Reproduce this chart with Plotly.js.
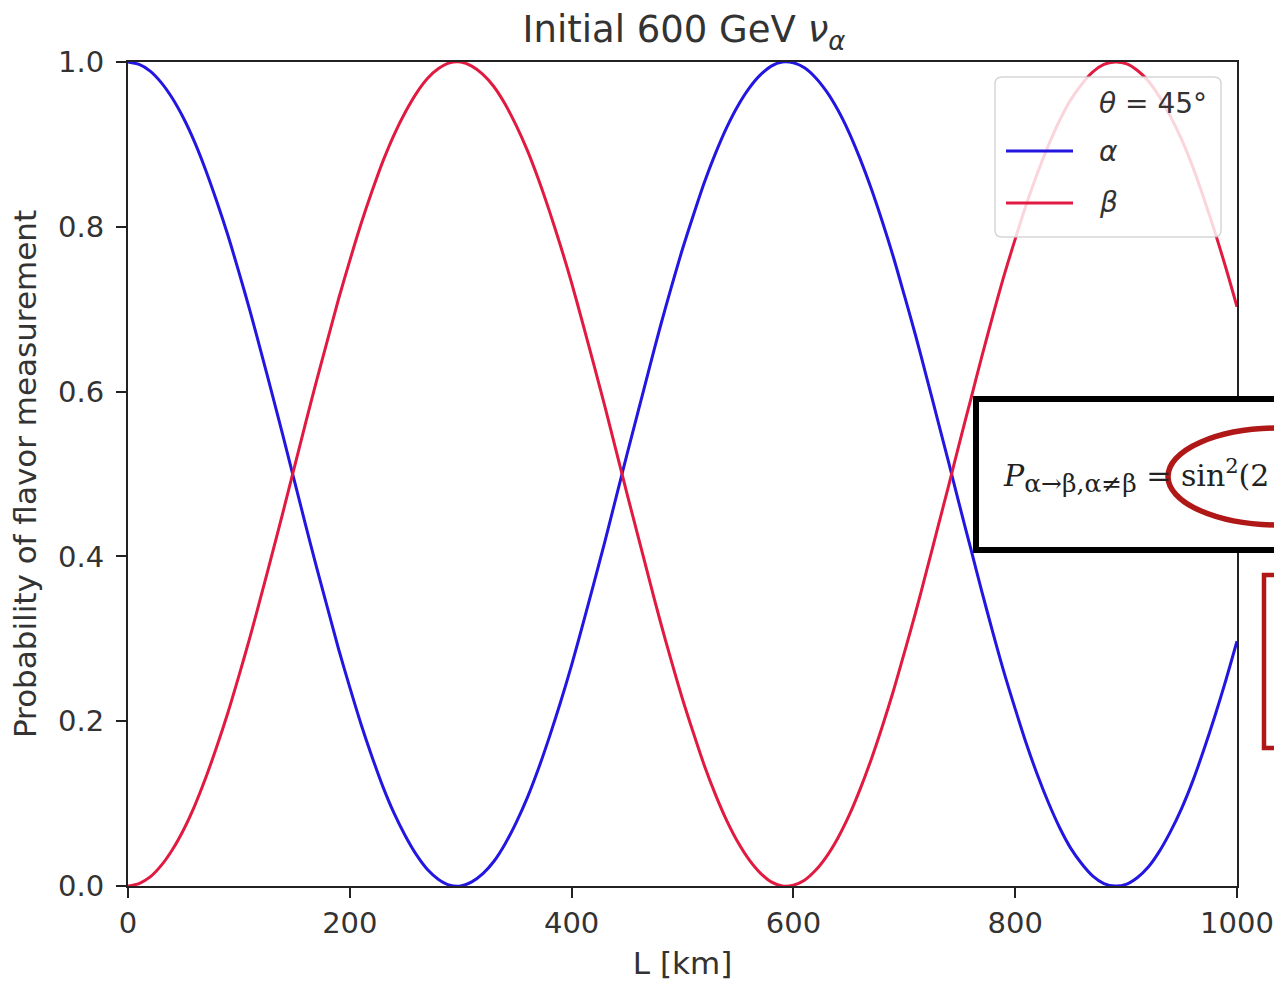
<!DOCTYPE html>
<html>
<head>
<meta charset="utf-8">
<script src="https://cdn.plot.ly/plotly-3.0.1.min.js"></script>
<style>html,body{margin:0;padding:0;background:#fff;}#chart{width:1274px;height:982px;}</style>
</head>
<body>
<div id="chart"></div>
<script>
// Distance L [km]
var distanceKm = [0,10,20,30,40,50,60,70,80,90,100,110,120,130,140,150,160,170,180,190,200,210,220,230,240,250,260,270,280,290,300,310,320,330,340,350,360,370,380,390,400,410,420,430,440,450,460,470,480,490,500,510,520,530,540,550,560,570,580,590,600,610,620,630,640,650,660,670,680,690,700,710,720,730,740,750,760,770,780,790,800,810,820,830,840,850,860,870,880,890,900,910,920,930,940,950,960,970,980,990,1000];
var probAlpha = [1.000,0.997,0.989,0.975,0.956,0.932,0.903,0.869,0.831,0.790,0.745,0.698,0.648,0.597,0.545,0.492,0.439,0.387,0.337,0.287,0.241,0.197,0.157,0.120,0.088,0.061,0.038,0.020,0.008,0.001,0.000,0.005,0.015,0.030,0.051,0.077,0.107,0.142,0.181,0.223,0.268,0.317,0.367,0.418,0.471,0.524,0.576,0.628,0.679,0.727,0.773,0.815,0.855,0.890,0.921,0.947,0.968,0.984,0.995,1.000,0.999,0.993,0.981,0.964,0.942,0.915,0.883,0.847,0.807,0.764,0.717,0.669,0.618,0.566,0.514,0.461,0.409,0.357,0.307,0.259,0.215,0.173,0.135,0.101,0.071,0.046,0.027,0.012,0.003,0.000,0.002,0.010,0.023,0.042,0.066,0.094,0.127,0.165,0.206,0.250,0.297];
var probBeta = [0.000,0.003,0.011,0.025,0.044,0.068,0.097,0.131,0.169,0.210,0.255,0.302,0.352,0.403,0.455,0.508,0.561,0.613,0.663,0.713,0.759,0.803,0.843,0.880,0.912,0.939,0.962,0.980,0.992,0.999,1.000,0.995,0.985,0.970,0.949,0.923,0.893,0.858,0.819,0.777,0.732,0.683,0.633,0.582,0.529,0.476,0.424,0.372,0.321,0.273,0.227,0.185,0.145,0.110,0.079,0.053,0.032,0.016,0.005,0.000,0.001,0.007,0.019,0.036,0.058,0.085,0.117,0.153,0.193,0.236,0.283,0.331,0.382,0.434,0.486,0.539,0.591,0.643,0.693,0.741,0.785,0.827,0.865,0.899,0.929,0.954,0.973,0.988,0.997,1.000,0.998,0.990,0.977,0.958,0.934,0.906,0.873,0.835,0.794,0.750,0.703];
var seriesNames = ['α','β'];
var legendTitle = '<i>θ</i> = 45°';
var xTickVals = [0,200,400,600,800,1000];
var yTickVals = [0,0.2,0.4,0.6,0.8,1.0];

var BLUE = '#2216e0';
var RED = '#e01a40';
var TXT = '#333333';
var AX = '#222222';

// plot area pixel geometry
var W = 1274, H = 982, L = 128, R = 37, T = 62, B = 96;
var pw = W - L - R, ph = H - T - B;
function px(x) { return (x - L) / pw; }
function py(y) { return (H - B - y) / ph; }

var traces = [
  {x: distanceKm, y: probAlpha, name: seriesNames[0], mode: 'lines',
   line: {color: BLUE, width: 3, shape: 'spline', smoothing: 0.8}, showlegend: false},
  {x: distanceKm, y: probBeta, name: seriesNames[1], mode: 'lines',
   line: {color: RED, width: 3, shape: 'spline', smoothing: 0.8}, showlegend: false}
];

// legend box (rounded) drawn to match the matplotlib look
var lx0 = px(995), lx1 = px(1221), ly0 = py(237), ly1 = py(77);
var rx = 7 / pw, ry = 7 / ph;
var legendPath = 'M' + (lx0 + rx) + ',' + ly1 +
  ' L' + (lx1 - rx) + ',' + ly1 + ' Q' + lx1 + ',' + ly1 + ' ' + lx1 + ',' + (ly1 - ry) +
  ' L' + lx1 + ',' + (ly0 + ry) + ' Q' + lx1 + ',' + ly0 + ' ' + (lx1 - rx) + ',' + ly0 +
  ' L' + (lx0 + rx) + ',' + ly0 + ' Q' + lx0 + ',' + ly0 + ' ' + lx0 + ',' + (ly0 + ry) +
  ' L' + lx0 + ',' + (ly1 - ry) + ' Q' + lx0 + ',' + ly1 + ' ' + (lx0 + rx) + ',' + ly1 + ' Z';

var shapes = [
  {type: 'path', xref: 'paper', yref: 'paper', path: legendPath,
   fillcolor: 'rgba(255,255,255,0.82)', line: {color: 'rgba(204,204,204,0.8)', width: 1.5}, layer: 'above'},
  {type: 'line', xref: 'paper', yref: 'paper', x0: px(1006), x1: px(1073), y0: py(151), y1: py(151),
   line: {color: BLUE, width: 3}, layer: 'above'},
  {type: 'line', xref: 'paper', yref: 'paper', x0: px(1006), x1: px(1073), y0: py(203), y1: py(203),
   line: {color: RED, width: 3}, layer: 'above'},
  // overlay formula box
  {type: 'rect', xref: 'paper', yref: 'paper', x0: px(976), x1: px(1300), y0: py(550), y1: py(399),
   fillcolor: '#ffffff', line: {color: '#000000', width: 6}, layer: 'above'},
  // red ellipse
  {type: 'circle', xref: 'paper', yref: 'paper', x0: px(1168), x1: px(1390), y0: py(525), y1: py(428),
   line: {color: '#b01818', width: 5.5}, layer: 'above'},
  // red rectangle
  {type: 'rect', xref: 'paper', yref: 'paper', x0: px(1264), x1: px(1400), y0: py(748), y1: py(575),
   line: {color: '#b01818', width: 4.5}, layer: 'above'}
];

var annotations = [
  {xref: 'paper', yref: 'paper', x: px(1097), y: py(103), xanchor: 'left', yanchor: 'middle',
   text: legendTitle, showarrow: false, font: {family: 'DejaVu Sans', size: 28, color: TXT}},
  {xref: 'paper', yref: 'paper', x: px(1097), y: py(152), xanchor: 'left', yanchor: 'middle',
   text: '<i>' + seriesNames[0] + '</i>', showarrow: false, font: {family: 'DejaVu Sans', size: 28, color: TXT}},
  {xref: 'paper', yref: 'paper', x: px(1097), y: py(203), xanchor: 'left', yanchor: 'middle',
   text: '<i>' + seriesNames[1] + '</i>', showarrow: false, font: {family: 'DejaVu Sans', size: 28, color: TXT}},
  {xref: 'paper', yref: 'paper', x: px(1001), y: py(476), xanchor: 'left', yanchor: 'middle',
   text: '<i>P</i><sub><span style="font-size:25px">α→β,α≠β</span></sub> = sin<sup>2</sup>(2', showarrow: false,
   font: {family: 'DejaVu Serif', size: 30, color: '#222222'}}
];

var axisCommon = {
  showline: true, mirror: true, linecolor: AX, linewidth: 2,
  ticks: 'outside', ticklen: 10, tickwidth: 2, tickcolor: AX,
  showgrid: false, zeroline: false,
  ticklabeloverflow: 'allow',
  tickfont: {family: 'DejaVu Sans', size: 29, color: TXT}
};

var layout = {
  width: W, height: H,
  margin: {l: L, r: R, t: T, b: B, pad: 0},
  paper_bgcolor: '#ffffff', plot_bgcolor: '#ffffff',
  showlegend: false,
  title: {text: 'Initial 600 GeV <i>ν</i><sub><i>α</i></sub>', x: px(684), xanchor: 'center', xref: 'paper',
          y: 1 - 29 / H, yref: 'container', yanchor: 'middle',
          font: {family: 'DejaVu Sans', size: 37, color: TXT}},
  xaxis: Object.assign({}, axisCommon, {
    range: [0, 1000], tickvals: xTickVals, ticktext: xTickVals.map(String),
    ticklabelstandoff: 0,
    title: {text: 'L [km]', standoff: 14, font: {family: 'DejaVu Sans', size: 31, color: TXT}}
  }),
  yaxis: Object.assign({}, axisCommon, {
    range: [0, 1], tickvals: yTickVals, ticktext: yTickVals.map(function (v) { return v.toFixed(1); }),
    ticklabelstandoff: 6,
    title: {text: 'Probability of flavor measurement', standoff: 12, font: {family: 'DejaVu Sans', size: 31, color: TXT}}
  }),
  shapes: shapes,
  annotations: annotations
};

Plotly.newPlot('chart', traces, layout, {displayModeBar: false, staticPlot: true});
</script>
</body>
</html>
